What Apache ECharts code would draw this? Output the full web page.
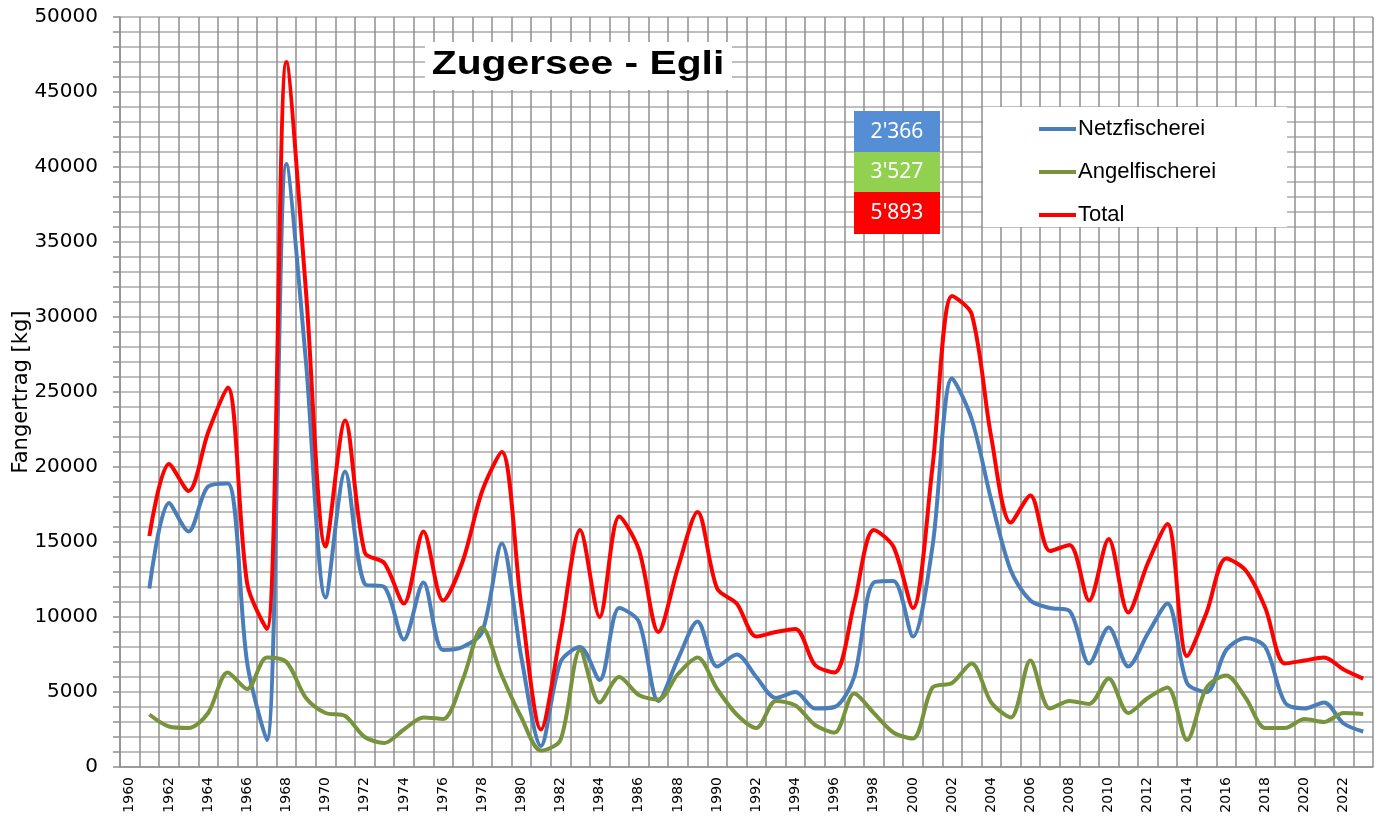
<!DOCTYPE html>
<html>
<head>
<meta charset="utf-8">
<title>Zugersee - Egli</title>
<script src="https://cdn.jsdelivr.net/npm/echarts@6/dist/echarts.min.js"></script>
<style>
  html, body { margin: 0; padding: 0; background: #fff; }
  #chart { width: 1381px; height: 816px; }
</style>
</head>
<body>
<div id="chart"></div>
<script>
  // Jahre 1960-2023, Werte in kg (1960 ohne Daten)
  var years = ['1960','1961','1962','1963','1964','1965','1966','1967','1968','1969',
    '1970','1971','1972','1973','1974','1975','1976','1977','1978','1979',
    '1980','1981','1982','1983','1984','1985','1986','1987','1988','1989',
    '1990','1991','1992','1993','1994','1995','1996','1997','1998','1999',
    '2000','2001','2002','2003','2004','2005','2006','2007','2008','2009',
    '2010','2011','2012','2013','2014','2015','2016','2017','2018','2019',
    '2020','2021','2022','2023'];

  var netz = [null, 11900, 17600, 15700, 18700, 18900, 6900, 1800, 40200, 27000,
    11300, 19700, 12200, 12000, 8500, 12300, 7800, 8000, 9000, 14900,
    7300, 1400, 7000, 8000, 5800, 10600, 9700, 4400, 7200, 9700,
    6700, 7500, 6000, 4600, 5000, 3900, 4000, 6000, 12300, 12400,
    8700, 14700, 25900, 23200, 17800, 13100, 11100, 10600, 10400, 6900,
    9300, 6700, 8900, 10900, 5600, 5000, 7800, 8600, 8000, 4300,
    3900, 4300, 2900, 2366];

  var angel = [null, 3500, 2700, 2600, 3600, 6300, 5200, 7300, 7000, 4600,
    3600, 3400, 2000, 1600, 2500, 3300, 3200, 5800, 9300, 6100,
    3300, 1100, 1800, 7800, 4300, 6000, 4800, 4500, 6200, 7300,
    5200, 3500, 2600, 4400, 4100, 2800, 2300, 4900, 3600, 2300,
    1900, 5300, 5600, 6900, 4300, 3300, 7100, 3900, 4400, 4200,
    5900, 3600, 4600, 5300, 1800, 5300, 6100, 4600, 2600, 2600,
    3200, 3000, 3600, 3527];

  var total = [null, 15400, 20200, 18400, 22300, 25300, 12200, 9200, 47000, 31700,
    14700, 23100, 14300, 13600, 10900, 15700, 11100, 13700, 18400, 21000,
    10700, 2500, 8900, 15800, 10000, 16700, 14500, 9000, 13300, 17000,
    11900, 10900, 8700, 9000, 9200, 6800, 6300, 10900, 15800, 14700,
    10600, 20000, 31400, 30200, 22000, 16300, 18100, 14400, 14800, 11100,
    15200, 10300, 13600, 16200, 7400, 10300, 13900, 13100, 10600, 6900,
    7100, 7300, 6500, 5893];

  var colNetz = '#4a7ebb', colAngel = '#77933c', colTotal = '#ff0000';

  function fmt(v) {
    return String(v).replace(/\B(?=(\d{3})+(?!\d))/g, "'");
  }
  var last = years.length - 1;

  var myChart = echarts.init(document.getElementById('chart'));
  var gridV = '#8f8f8f', gridH = '#ababab';

  function lineSeries(name, data, color) {
    return {
      name: name,
      type: 'line',
      data: data,
      smooth: 0.3,
      showSymbol: false,
      itemStyle: { color: color },
      lineStyle: { color: color, width: 4 }
    };
  }

  var option = {
    animation: false,
    backgroundColor: '#fff',
    grid: { left: 120, right: 8, top: 17, bottom: 49, outerBoundsMode: 'none' },
    xAxis: {
      type: 'category',
      data: years,
      boundaryGap: true,
      axisLine: { lineStyle: { color: gridV, width: 1.5 } },
      axisTick: { show: false },
      axisLabel: {
        interval: 1,
        rotate: 90,
        margin: 10,
        color: '#000',
        fontFamily: 'DejaVu Sans',
        fontSize: 14
      },
      splitLine: { show: true, interval: 0, lineStyle: { color: gridV, width: 1.5 } }
    },
    yAxis: {
      type: 'value',
      min: 0,
      max: 50000,
      interval: 5000,
      name: 'Fangertrag [kg]',
      nameLocation: 'middle',
      nameGap: 88,
      nameMoveOverlap: false,
      nameTextStyle: { color: '#000', fontFamily: 'DejaVu Sans', fontSize: 21 },
      axisLine: { show: true, lineStyle: { color: gridV, width: 1.5 } },
      axisTick: { show: true, length: 7, lineStyle: { color: gridV, width: 1.5 } },
      minorTick: { show: true, splitNumber: 5, length: 7, lineStyle: { color: gridV, width: 1.5 } },
      axisLabel: {
        margin: 22, color: '#000', fontFamily: 'DejaVu Sans', fontSize: 20,
        formatter: function (v) { return String(v); }
      },
      splitLine: { lineStyle: { color: gridH, width: 1.5 } },
      minorSplitLine: { show: true, lineStyle: { color: gridH, width: 1.5 } }
    },
    legend: {
      orient: 'vertical',
      left: 1039,
      top: 118,
      padding: 0,
      z: 10,
      icon: 'rect',
      itemWidth: 37,
      itemHeight: 4,
      itemGap: 21,
      textStyle: { color: '#000', fontFamily: 'Liberation Sans', fontSize: 22, padding: [0, 0, 0, -3] },
      data: ['Netzfischerei', 'Angelfischerei', 'Total']
    },
    graphic: [
      { type: 'rect', z: 3, shape: { x: 425, y: 42, width: 307, height: 48 }, style: { fill: '#fff' } },
      { type: 'text', z: 4, x: 578, y: 65, scaleX: 1.2,
        style: { text: 'Zugersee - Egli', fill: '#000', font: 'bold 34px "Liberation Sans"', textAlign: 'center', textVerticalAlign: 'middle' } },

      { type: 'rect', z: 3, shape: { x: 983, y: 107, width: 304, height: 120 }, style: { fill: '#fff' } },

      { type: 'rect', z: 3, shape: { x: 854, y: 111, width: 86, height: 41 }, style: { fill: '#558ed5' } },
      { type: 'rect', z: 3, shape: { x: 854, y: 152, width: 86, height: 40 }, style: { fill: '#92d050' } },
      { type: 'rect', z: 3, shape: { x: 854, y: 192, width: 86, height: 42 }, style: { fill: '#ff0000' } },
      { type: 'text', z: 4, x: 897, y: 132,
        style: { text: fmt(netz[last]), fill: '#fff', font: '21px "Noto Sans"', textAlign: 'center', textVerticalAlign: 'middle' } },
      { type: 'text', z: 4, x: 897, y: 172,
        style: { text: fmt(angel[last]), fill: '#fff', font: '21px "Noto Sans"', textAlign: 'center', textVerticalAlign: 'middle' } },
      { type: 'text', z: 4, x: 897, y: 213,
        style: { text: fmt(total[last]), fill: '#fff', font: '21px "Noto Sans"', textAlign: 'center', textVerticalAlign: 'middle' } }
    ],
    series: [
      lineSeries('Netzfischerei', netz, colNetz),
      lineSeries('Angelfischerei', angel, colAngel),
      lineSeries('Total', total, colTotal)
    ]
  };

  myChart.setOption(option);
</script>
</body>
</html>
